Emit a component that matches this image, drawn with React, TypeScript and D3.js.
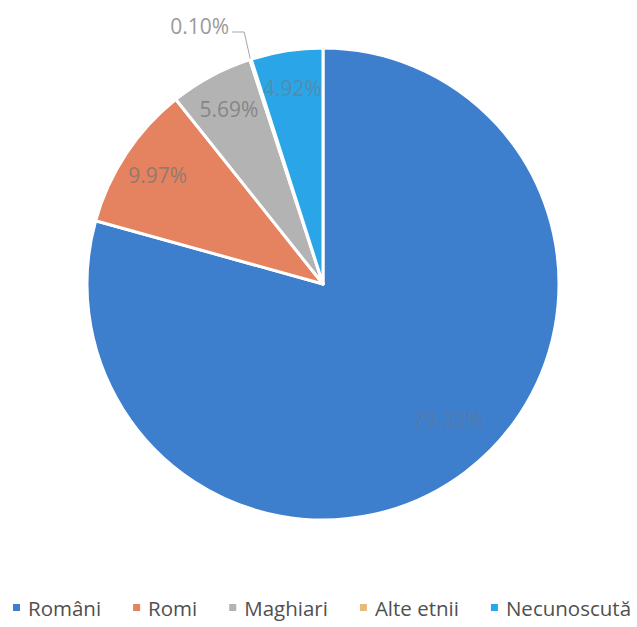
import React, { useEffect, useRef } from "react";
import * as d3 from "d3";

// ethnic structure (%)
const categories = ["Români", "Romi", "Maghiari", "Alte etnii", "Necunoscută"];
const values = [79.32, 9.97, 5.69, 0.1, 4.92];
const labels = ["79.32%", "9.97%", "5.69%", "0.10%", "4.92%"];
const colors = ["#3d7fcc", "#e5825f", "#b3b3b3", "#e8b97c", "#2aa6e8"];

const W = 637;
const H = 627;

const App = () => {
  const svgRef = useRef<SVGSVGElement | null>(null);

  useEffect(() => {
    const svg = d3.select(svgRef.current);
    svg.selectAll("*").remove();

    const cx = 323;
    const cy = 284;
    const r = 236;

    const pie = d3.pie<number>().sort(null).value((d) => d);
    const arcs = pie(values);
    const arc = d3.arc<d3.PieArcDatum<number>>().innerRadius(0).outerRadius(r);

    const g = svg.append("g").attr("transform", `translate(${cx},${cy})`);

    g.selectAll("path.slice")
      .data(arcs)
      .enter()
      .append("path")
      .attr("class", "slice")
      .attr("d", arc)
      .attr("fill", (_, i) => colors[i])
      .attr("stroke", "#fff")
      .attr("stroke-width", 3)
      .attr("stroke-linejoin", "round");

    // labels inside the slices (small one goes outside with a leader line)
    arcs.forEach((a, i) => {
      let mid = (a.startAngle + a.endAngle) / 2;
      if (values[i] < 1) {
        const px = Math.sin(mid) * (r + 1);
        const py = -Math.cos(mid) * (r + 1);
        const ly = 32 - cy;
        g.append("path")
          .attr("d", `M${px},${py}L${px - 6},${ly}L${px - 18},${ly}`)
          .attr("fill", "none")
          .attr("stroke", "#a6a6a6")
          .attr("stroke-width", 1);
        g.append("text")
          .attr("x", px - 21)
          .attr("y", ly - 6)
          .attr("text-anchor", "end")
          .attr("dominant-baseline", "central")
          .attr("font-family", "'Open Sans', sans-serif")
          .attr("font-size", 21)
          .attr("fill", "#9a9a9a")
          .text(labels[i]);
        return;
      }
      let lr = r * 0.84;
      if (values[i] > 50) {
        // big slice label sits a bit off the centroid, as in the original
        mid -= 0.1;
        lr = r * 0.78;
      }
      g.append("text")
        .attr("x", Math.sin(mid) * lr)
        .attr("y", -Math.cos(mid) * lr)
        .attr("text-anchor", "middle")
        .attr("dominant-baseline", "central")
        .attr("font-family", "'Open Sans', sans-serif")
        .attr("font-size", 21)
        .attr("fill", "#767676")
        .attr("fill-opacity", values[i] > 50 ? 0.4 : values[i] < 5 ? 0.55 : 0.75)
        .text(labels[i]);
    });

    // legend
    const legend = svg.append("g").attr("transform", `translate(0,608)`);
    let x = 13;
    categories.forEach((c, i) => {
      legend
        .append("rect")
        .attr("x", x)
        .attr("y", -4)
        .attr("width", 7)
        .attr("height", 7)
        .attr("fill", colors[i]);
      const t = legend
        .append("text")
        .attr("x", x + 15)
        .attr("y", 0)
        .attr("dominant-baseline", "central")
        .attr("font-family", "'Open Sans', sans-serif")
        .attr("font-size", 20.5)
        .attr("fill", "#505050")
        .text(c);
      const w = (t.node() as SVGTextElement).getComputedTextLength();
      x += 15 + w + 32;
    });
  }, []);

  return (
    <svg
      ref={svgRef}
      width={W}
      height={H}
      style={{ position: "absolute", left: 0, top: 0, background: "#fff" }}
    />
  );
};

export default App;
